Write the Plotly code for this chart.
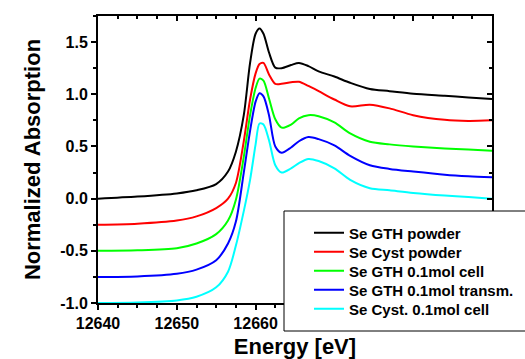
import plotly.graph_objects as go

# ---------------- data ----------------
energy = [12640, 12645, 12650, 12652.5, 12655, 12656.5, 12657.5, 12658.5, 12659.3,
          12660, 12660.5, 12661, 12661.7, 12662.5, 12663.3, 12664.5, 12665.5,
          12666.7, 12668, 12670, 12672, 12674.5, 12677, 12680, 12684, 12687, 12690]

se_gth_powder = [0.00, 0.02, 0.05, 0.08, 0.14, 0.26, 0.45, 0.80, 1.30,
                 1.58, 1.63, 1.58, 1.40, 1.255, 1.25, 1.28, 1.30,
                 1.27, 1.22, 1.17, 1.11, 1.05, 1.03, 1.005, 0.985, 0.97, 0.955]

se_cyst_powder = [-0.25, -0.24, -0.21, -0.17, -0.09, 0.00, 0.15, 0.55, 0.95,
                  1.20, 1.29, 1.30, 1.19, 1.10, 1.10, 1.115, 1.12,
                  1.08, 1.03, 0.95, 0.885, 0.90, 0.865, 0.80, 0.755, 0.745, 0.75]

se_gth_cell = [-0.50, -0.495, -0.475, -0.43, -0.34, -0.21, -0.01, 0.40, 0.80,
               1.06, 1.15, 1.13, 0.96, 0.76, 0.68, 0.71, 0.77,
               0.80, 0.79, 0.73, 0.625, 0.545, 0.52, 0.50, 0.48, 0.47, 0.46]

se_gth_transm = [-0.75, -0.745, -0.72, -0.68, -0.59, -0.43, -0.22, 0.25, 0.65,
                 0.93, 1.01, 0.98, 0.80, 0.50, 0.44, 0.49, 0.55,
                 0.59, 0.57, 0.51, 0.41, 0.32, 0.285, 0.26, 0.23, 0.215, 0.205]

se_cyst_cell = [-1.00, -0.995, -0.975, -0.94, -0.85, -0.70, -0.45, -0.12, 0.18,
                0.52, 0.72, 0.71, 0.56, 0.32, 0.25, 0.29, 0.34,
                0.38, 0.36, 0.29, 0.18, 0.10, 0.08, 0.055, 0.03, 0.015, 0.00]

series_names = ["Se GTH powder", "Se Cyst powder", "Se GTH 0.1mol cell",
                "Se GTH 0.1mol transm.", "Se Cyst. 0.1mol cell"]
series_values = [se_gth_powder, se_cyst_powder, se_gth_cell, se_gth_transm, se_cyst_cell]
series_colors = ["#000000", "#FF0000", "#00FF00", "#0000FF", "#00FFFF"]

x_range = [12640, 12690]
y_range = [-1.0, 1.75]
x_tickvals = [12640, 12650, 12660, 12670, 12680, 12690]
# labels 12670-12690 are hidden behind the legend box in the reference
x_ticktext = ["12640", "12650", "12660", "", "", ""]
y_tickvals = [-1.0, -0.5, 0.0, 0.5, 1.0, 1.5]
y_ticktext = ["-1.0", "-0.5", "0.0", "0.5", "1.0", "1.5"]

# ---------------- figure ----------------
FONT = "Arial, Liberation Sans, sans-serif"
W, H = 525, 359
ML, MR, MT, MB = 98, 33, 16, 56
PW, PH = W - ML - MR, H - MT - MB

def px_to_paper_x(px):
    return (px - ML) / PW

def py_to_paper_y(py):
    return (H - MB - py) / PH

fig = go.Figure()

legend_rows_py = [233, 252, 271, 290, 309]
legend_keys = ["legend", "legend2", "legend3", "legend4", "legend5"]

for i, (name, vals, col) in enumerate(zip(series_names, series_values, series_colors)):
    fig.add_trace(go.Scatter(
        x=energy, y=vals, mode="lines", name=name,
        line=dict(color=col, width=2, shape="spline", smoothing=0.8),
        legend=legend_keys[i],
    ))

# empty trace to activate the mirrored (top/right) axes
fig.add_trace(go.Scatter(x=[], y=[], xaxis="x2", yaxis="y2", showlegend=False))

tickfont = dict(family=FONT, size=16, color="black", weight="bold")

layout_legends = {}
for i, key in enumerate(legend_keys):
    layout_legends[key] = dict(
        x=px_to_paper_x(309), xanchor="left",
        y=py_to_paper_y(legend_rows_py[i]), yanchor="middle",
        bgcolor="rgba(0,0,0,0)", borderwidth=0,
        font=dict(family=FONT, size=15, color="black", weight="bold"),
    )

fig.update_layout(
    width=W, height=H,
    margin=dict(l=ML, r=MR, t=MT, b=MB, autoexpand=False),
    paper_bgcolor="white", plot_bgcolor="white",
    showlegend=True,
    xaxis=dict(
        range=x_range, tickvals=x_tickvals, ticktext=x_ticktext,
        ticks="outside", ticklen=5, tickwidth=1.5,
        tickcolor="black", showline=True, linewidth=2, linecolor="black",
        showgrid=False, zeroline=False, tickfont=tickfont,
        minor=dict(ticks="outside", dtick=2.5, ticklen=3, tickwidth=1.5, tickcolor="black"),
        title=dict(text="Energy [eV]", font=dict(family=FONT, size=22, color="black", weight="bold"),
                   standoff=8),
    ),
    yaxis=dict(
        range=y_range, tickvals=y_tickvals, ticktext=y_ticktext,
        ticks="outside", ticklen=5, tickwidth=1.5,
        tickcolor="black", showline=True, linewidth=2, linecolor="black",
        showgrid=False, zeroline=False, tickfont=tickfont,
        minor=dict(ticks="outside", dtick=0.25, ticklen=3, tickwidth=1.5, tickcolor="black"),
        title=dict(text="Normalized Absorption", font=dict(family=FONT, size=22, color="black", weight="bold"),
                   standoff=14),
    ),
    xaxis2=dict(
        range=x_range, overlaying="x", side="top", tickvals=x_tickvals, ticks="inside",
        ticklen=5, tickwidth=1.5, tickcolor="black", showticklabels=False,
        showline=True, linewidth=2, linecolor="black", showgrid=False, zeroline=False,
        minor=dict(ticks="inside", dtick=2.5, ticklen=3, tickwidth=1.5, tickcolor="black"),
    ),
    yaxis2=dict(
        range=y_range, overlaying="y", side="right", tickvals=y_tickvals, ticks="inside",
        ticklen=5, tickwidth=1.5, tickcolor="black", showticklabels=False,
        showline=True, linewidth=2, linecolor="black", showgrid=False, zeroline=False,
        minor=dict(ticks="inside", dtick=0.25, ticklen=3, tickwidth=1.5, tickcolor="black"),
    ),
    shapes=[dict(
        type="rect", xref="paper", yref="paper", layer="above",
        x0=px_to_paper_x(284), x1=px_to_paper_x(540),
        y0=py_to_paper_y(331), y1=py_to_paper_y(211),
        fillcolor="white", line=dict(color="black", width=1),
    )],
    **layout_legends,
)

fig.write_html("out.html")
